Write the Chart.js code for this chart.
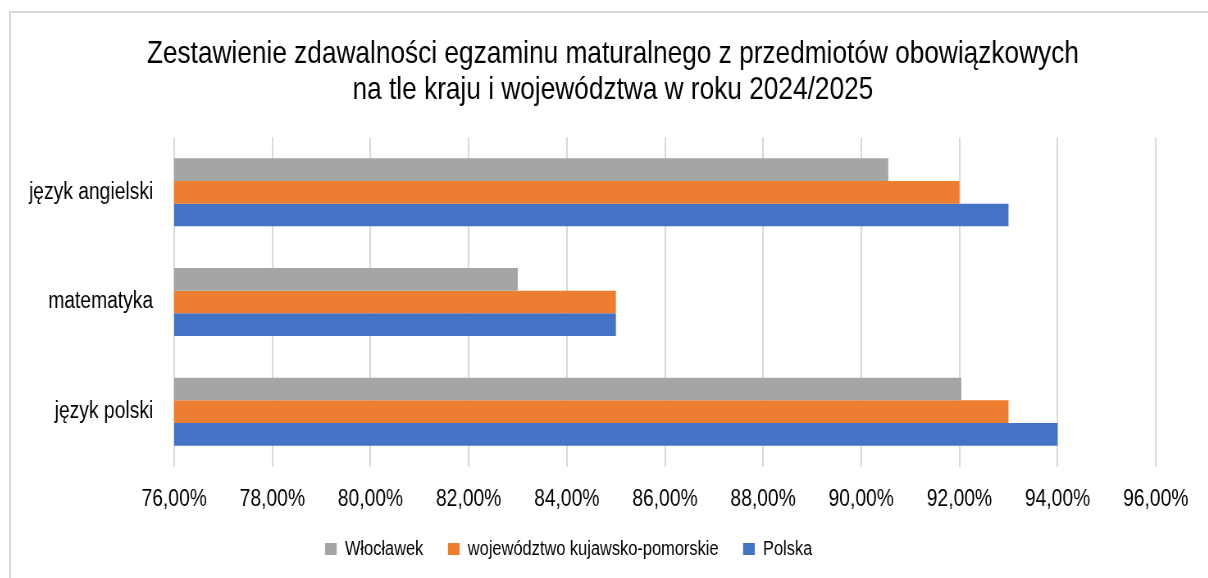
<!DOCTYPE html>
<html lang="pl">
<head>
<meta charset="utf-8">
<script src="https://cdn.jsdelivr.net/npm/chart.js@4.4.1/dist/chart.umd.min.js"></script>
<style>
  html, body { margin: 0; padding: 0; background: #fff; overflow: hidden; }
  #frame {
    position: absolute; left: 9px; top: 11px;
    border-left: 2px solid #d9d9d9; border-top: 2px solid #d9d9d9;
    width: 1300px; height: 600px;
  }
  /* the reference picture is squeezed horizontally, so the canvas is too */
  #chart { display: block; transform: scaleX(0.82); transform-origin: 0 0; }
</style>
</head>
<body>
<div id="frame"><canvas id="chart" width="1468" height="570"></canvas></div>
<script>
const categories = ["język angielski", "matematyka", "język polski"];
const seriesNames = ["Włocławek", "województwo kujawsko-pomorskie", "Polska"];
const wloclawek = [90.55, 83.0, 92.04];
const wojewodztwo = [92.0, 85.0, 93.0];
const polska = [93.0, 85.0, 94.0];
const xMin = 76, xMax = 96, xStep = 2;
const titleLines = [
  "Zestawienie zdawalności egzaminu maturalnego z przedmiotów obowiązkowych",
  "na tle kraju i województwa w roku 2024/2025"
];

const FONT = "'Liberation Sans', Arial, sans-serif";

// title sits on the middle of the whole frame, legend a bit left of it
const nudgeBoxes = {
  id: "nudgeBoxes",
  afterLayout(chart) {
    chart.titleBlock.left += 36;
    chart.titleBlock.right += 36;
    chart.legend.left -= 18;
    chart.legend.right -= 18;
  }
};

new Chart(document.getElementById("chart"), {
  type: "bar",
  data: {
    labels: categories,
    datasets: [
      { label: seriesNames[0], data: wloclawek, backgroundColor: "#A5A5A5" },
      { label: seriesNames[1], data: wojewodztwo, backgroundColor: "#ED7D31" },
      { label: seriesNames[2], data: polska, backgroundColor: "#4472C4" }
    ]
  },
  options: {
    indexAxis: "y",
    responsive: false,
    animation: false,
    devicePixelRatio: 1,
    categoryPercentage: 0.62,
    barPercentage: 1,
    layout: { padding: { left: 0, right: 72, top: 0, bottom: 14 } },
    scales: {
      x: {
        min: xMin,
        max: xMax,
        ticks: {
          stepSize: xStep,
          padding: 19,
          color: "#000",
          font: { family: FONT, size: 23.5 },
          callback: v => v.toFixed(2).replace(".", ",") + "%"
        },
        grid: { color: "#d9d9d9", lineWidth: 2, drawTicks: false },
        border: { display: false },
        afterFit: s => { s.height = 42.5; }
      },
      y: {
        ticks: {
          padding: 25.6,
          color: "#000",
          font: { family: FONT, size: 23.5 }
        },
        grid: { display: false, drawTicks: false },
        border: { display: false },
        afterFit: s => { s.width = 199; }
      }
    },
    plugins: {
      title: {
        display: true,
        text: titleLines,
        color: "#000",
        font: { family: FONT, size: 32, weight: "normal", lineHeight: 1.125 },
        padding: { top: 23, bottom: 29.5 }
      },
      legend: {
        position: "bottom",
        labels: {
          boxWidth: 14.3,
          boxHeight: 12,
          padding: 30,
          color: "#000",
          font: { family: FONT, size: 20 }
        }
      },
      tooltip: { enabled: false }
    }
  },
  plugins: [nudgeBoxes]
});
</script>
</body>
</html>
